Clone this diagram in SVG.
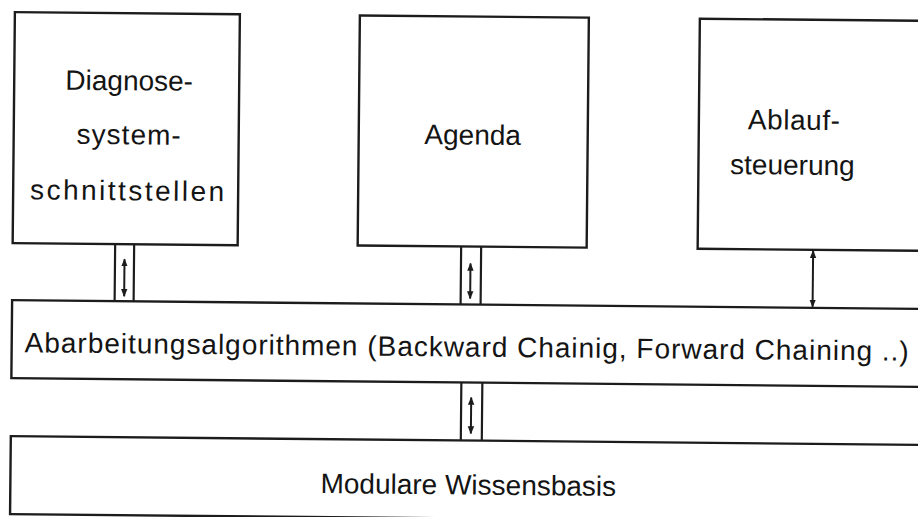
<svg xmlns="http://www.w3.org/2000/svg" width="918" height="517" viewBox="0 0 918 517">
  <style>
    .box { fill: #ffffff; stroke: #1c1c1c; stroke-width: 2.4; }
    .pipe { fill: none; stroke: #1c1c1c; stroke-width: 2.2; }
    .arrow { fill: none; stroke: #1c1c1c; stroke-width: 2; marker-start: url(#head); marker-end: url(#head); }
    .label { font-family: "Liberation Sans", Arial, Helvetica, sans-serif; font-size: 28px; fill: #141414; }
    .c { text-anchor: middle; }
  </style>
  <defs>
    <marker id="head" viewBox="0 0 10 8" refX="9" refY="4" markerWidth="8" markerHeight="7" markerUnits="userSpaceOnUse" orient="auto-start-reverse">
      <path d="M0,0 L10,4 L0,8 z" fill="#1c1c1c"/>
    </marker>
  </defs>
  <rect width="918" height="517" fill="#ffffff"/>
  <g transform="rotate(0.55)">
    <g id="diagnose">
      <rect class="box" x="15" y="12" width="225" height="231"/>
      <text class="label c" x="130" y="89">Diagnose-</text>
      <text class="label c" x="130" y="143" textLength="104" lengthAdjust="spacing">system-</text>
      <text class="label c" x="129" y="199" textLength="194" lengthAdjust="spacing">schnittstellen</text>
    </g>
    <g id="agenda">
      <rect class="box" x="360" y="12" width="229" height="230"/>
      <text class="label c" x="474" y="140">Agenda</text>
    </g>
    <g id="ablauf">
      <rect class="box" x="700" y="12" width="240" height="230"/>
      <text class="label c" x="795" y="122" textLength="92" lengthAdjust="spacing">Ablauf-</text>
      <text class="label c" x="794" y="167">steuerung</text>
    </g>
    <g id="abarbeitung">
      <rect class="box" x="15" y="300" width="925" height="78"/>
      <text class="label" x="28" y="352" textLength="884" lengthAdjust="spacing">Abarbeitungsalgorithmen (Backward Chainig, Forward Chaining ..)</text>
    </g>
    <g id="wissensbasis">
      <rect class="box" x="15" y="436" width="925" height="78"/>
      <text class="label c" x="473" y="490">Modulare Wissensbasis</text>
    </g>
    <g id="connectors">
      <path class="pipe" d="M117.5,243 V300 M136.5,243 V300"/>
      <line class="arrow" x1="127" y1="258" x2="127" y2="295"/>
      <path class="pipe" d="M463.5,242 V300 M483.5,242 V300"/>
      <line class="arrow" x1="473" y1="259" x2="473" y2="294"/>
      <path class="pipe" d="M465,378 V436 M486,378 V436"/>
      <line class="arrow" x1="475" y1="393" x2="475" y2="429"/>
      <line class="arrow" x1="815.5" y1="243" x2="815.5" y2="299"/>
    </g>
  </g>
</svg>
